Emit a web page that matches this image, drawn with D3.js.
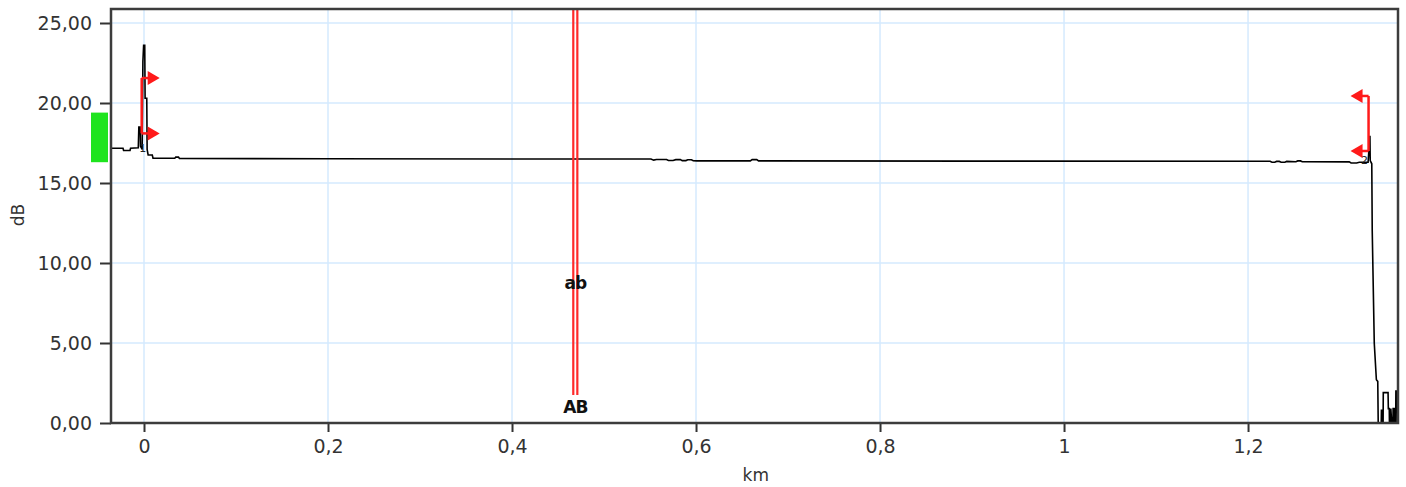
<!DOCTYPE html>
<html>
<head>
<meta charset="utf-8">
<script src="https://cdn.jsdelivr.net/npm/d3@7"></script>
<style>
  body { margin: 0; background: #fff; }
  svg text { font-family: "DejaVu Sans", Verdana, sans-serif; }
</style>
</head>
<body>
<svg id="chart"></svg>
<script>
// ticks
const xTicks = [0, 0.2, 0.4, 0.6, 0.8, 1, 1.2];
const yTicks = [0, 5, 10, 15, 20, 25];

// OTDR trace, [km, dB]
const trace = [
  [-0.0359, 17.17], [-0.0228, 17.17], [-0.0222, 17.03], [-0.0152, 17.03],
  [-0.0146, 17.17], [-0.0062, 17.2], [-0.0056, 18.5], [-0.0042, 18.5],
  [-0.0038, 17.3], [-0.0020, 17.1], [-0.0012, 22.6], [-0.0004, 23.6],
  [0.0008, 23.6], [0.0012, 20.3], [0.0030, 20.3], [0.0034, 17.1],
  [0.0045, 16.75], [0.0090, 16.75], [0.0098, 16.55], [0.0335, 16.55],
  [0.0345, 16.62], [0.0375, 16.62], [0.0385, 16.53], [0.2, 16.52],
  [0.4, 16.5], [0.551, 16.5], [0.554, 16.43], [0.557, 16.47],
  [0.568, 16.47], [0.570, 16.41], [0.575, 16.41], [0.578, 16.46],
  [0.583, 16.46], [0.585, 16.40], [0.589, 16.40], [0.591, 16.45],
  [0.595, 16.45], [0.597, 16.39], [0.601, 16.38], [0.659, 16.38],
  [0.661, 16.46], [0.666, 16.46], [0.668, 16.38], [0.9, 16.37],
  [1.224, 16.36], [1.226, 16.30], [1.229, 16.30], [1.231, 16.35],
  [1.234, 16.35], [1.236, 16.30], [1.240, 16.30], [1.242, 16.35],
  [1.252, 16.33], [1.254, 16.38], [1.257, 16.38], [1.259, 16.33],
  [1.310, 16.32], [1.312, 16.25], [1.318, 16.25], [1.321, 16.3],
  [1.3305, 16.3], [1.3312, 16.9], [1.3318, 17.9], [1.3325, 17.9],
  [1.3328, 16.4], [1.3345, 16.2], [1.3350, 12], [1.3372, 5],
  [1.3395, 2.7], [1.3410, 2.6], [1.3415, 0], [1.3448, 0],
  [1.3450, 0.8], [1.3458, 0.8], [1.3461, 0], [1.3468, 0],
  [1.3470, 1.9], [1.3522, 1.9], [1.3525, 0.9], [1.3535, 0.9],
  [1.3537, 0], [1.3550, 0], [1.3552, 0.9], [1.3562, 0],
  [1.3575, 0], [1.3577, 0.9], [1.3590, 0.9], [1.3592, 0],
  [1.3605, 0], [1.3607, 2.0], [1.3622, 2.0], [1.3624, 0]
];

// event markers: position, top/bottom levels, arrow direction
const markerKm = [-0.0025, 1.331];
const markerTop = [21.56, 20.44];
const markerBottom = [18.1, 17.0];
const markerDir = [1, -1];
const markerNames = ["1", "2"];

// cursors A/B
const cursorKm = [0.4666, 0.4710];
const cursorEnd = 1.75;
const cursorUpper = "ab";
const cursorLower = "AB";
const cursorUpperDb = 8.75;
const cursorLowerDb = 1.0;

// reference level band on the left
const refBand = [16.3, 19.4];

const W = 1406, H = 487;
const margin = {top: 9, right: 8, bottom: 64, left: 111};
const innerW = W - margin.left - margin.right;
const innerH = H - margin.top - margin.bottom;

const svg = d3.select("#chart").attr("width", W).attr("height", H);
const chart = svg.append("g").attr("transform", "translate(" + margin.left + "," + margin.top + ")");

const x = d3.scaleLinear().domain([-0.03587, 1.3630]).range([0, innerW]);
const y = d3.scaleLinear().domain([0, 25.875]).range([innerH, 0]);

const locale = d3.formatLocale({decimal: ",", thousands: ".", grouping: [3], currency: ["", ""]});
const fmtY = locale.format(".2f");
const fmtX = locale.format("~g");

// grid
chart.append("g").selectAll("line").data(xTicks).enter().append("line")
  .attr("x1", d => x(d)).attr("x2", d => x(d))
  .attr("y1", 0).attr("y2", innerH)
  .attr("stroke", "#d5eafe").attr("stroke-width", 1.5);
chart.append("g").selectAll("line").data(yTicks.filter(d => d > 0)).enter().append("line")
  .attr("x1", 0).attr("x2", innerW)
  .attr("y1", d => y(d)).attr("y2", d => y(d))
  .attr("stroke", "#d5eafe").attr("stroke-width", 1.5);

// axes
const yAxis = chart.append("g")
  .call(d3.axisLeft(y).tickValues(yTicks).tickFormat(fmtY).tickSize(11).tickSizeOuter(0).tickPadding(8));
const xAxis = chart.append("g").attr("transform", "translate(0," + innerH + ")")
  .call(d3.axisBottom(x).tickValues(xTicks).tickFormat(fmtX).tickSize(9).tickSizeOuter(0).tickPadding(8));
[yAxis, xAxis].forEach(a => {
  a.select(".domain").remove();
  a.selectAll(".tick line").attr("stroke", "#333").attr("stroke-width", 2);
  a.selectAll(".tick text").attr("fill", "#333").style("font-size", "19px");
});

// green reference band
chart.append("rect")
  .attr("x", -20).attr("width", 17)
  .attr("y", y(refBand[1])).attr("height", y(refBand[0]) - y(refBand[1]))
  .attr("fill", "#1ee41e");

// trace
svg.append("clipPath").attr("id", "plotclip").append("rect")
  .attr("width", innerW).attr("height", innerH);
chart.append("path")
  .datum(trace)
  .attr("clip-path", "url(#plotclip)")
  .attr("fill", "none").attr("stroke", "#000").attr("stroke-width", 1.6)
  .attr("d", d3.line().x(d => x(d[0])).y(d => y(d[1])));

// cursor lines
chart.append("g").selectAll("line").data(cursorKm).enter().append("line")
  .attr("x1", d => x(d)).attr("x2", d => x(d))
  .attr("y1", 0).attr("y2", y(cursorEnd))
  .attr("stroke", "#ff2a2a").attr("stroke-width", 2.2);
const cx = (x(cursorKm[0]) + x(cursorKm[1])) / 2;
[[cursorUpper, cursorUpperDb], [cursorLower, cursorLowerDb]].forEach(([t, v]) => {
  chart.append("text").attr("x", cx).attr("y", y(v))
    .attr("text-anchor", "middle").attr("dominant-baseline", "central")
    .attr("fill", "#111").style("font-size", "17px").style("font-weight", "bold")
    .style("letter-spacing", "-1px").text(t);
});

// event markers
markerKm.forEach((km, i) => {
  const mx = x(km), dir = markerDir[i];
  const g = chart.append("g");
  g.append("line").attr("x1", mx).attr("x2", mx)
    .attr("y1", y(markerTop[i])).attr("y2", y(markerBottom[i]))
    .attr("stroke", "#ff1a1a").attr("stroke-width", 2.5);
  [markerTop[i], markerBottom[i]].forEach(v => {
    const my = y(v);
    g.append("line").attr("x1", mx).attr("x2", mx + dir * 8)
      .attr("y1", my).attr("y2", my)
      .attr("stroke", "#ff1a1a").attr("stroke-width", 2.5);
    g.append("path")
      .attr("d", "M" + (mx + dir * 6) + "," + (my - 7) + "L" + (mx + dir * 18) + "," + my + "L" + (mx + dir * 6) + "," + (my + 7) + "Z")
      .attr("fill", "#ff1a1a");
  });
  g.append("text").attr("x", mx + (dir > 0 ? 1 : -4)).attr("y", y(markerBottom[i]) + (dir > 0 ? 19 : 13))
    .attr("text-anchor", "middle").attr("fill", "#222").style("font-size", "11px").text(markerNames[i]);
});

// frame
chart.append("rect").attr("width", innerW).attr("height", innerH)
  .attr("fill", "none").attr("stroke", "#3c3c3c").attr("stroke-width", 2.5);

// axis titles
svg.append("text").attr("x", margin.left + x(0.665)).attr("y", 481)
  .attr("text-anchor", "middle").attr("fill", "#333").style("font-size", "17px").text("km");
svg.append("text").attr("transform", "translate(24,215) rotate(-90)")
  .attr("text-anchor", "middle").attr("fill", "#333").style("font-size", "17px").text("dB");
</script>
</body>
</html>
